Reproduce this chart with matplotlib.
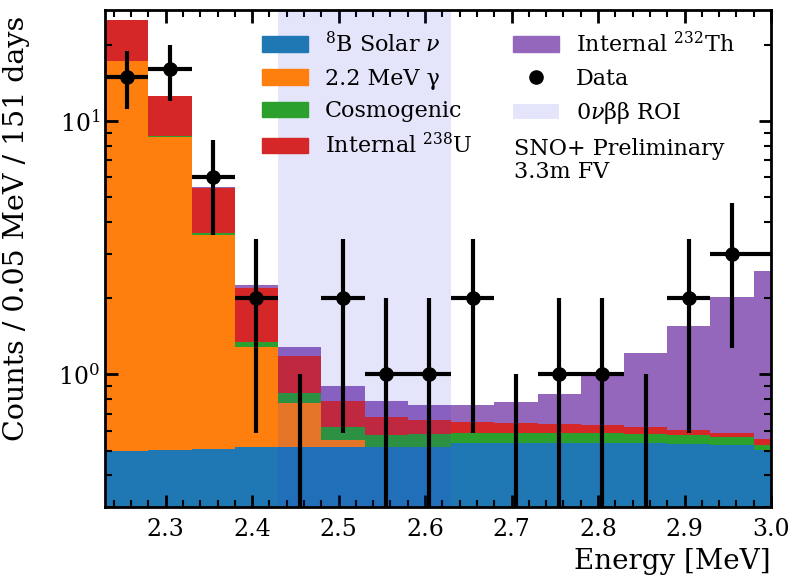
import numpy as np
import matplotlib
matplotlib.use('Agg')
import matplotlib.pyplot as plt
from matplotlib.patches import Patch
from matplotlib.lines import Line2D

plt.rcParams['font.family'] = 'serif'
plt.rcParams['font.serif'] = ['DejaVu Serif']
plt.rcParams['mathtext.fontset'] = 'dejavuserif'

# ---- data ----
bin_edges = np.round(2.23 + 0.05 * np.arange(17), 3)
b8_solar = [0.50, 0.505, 0.51, 0.515, 0.515, 0.515, 0.515, 0.515, 0.535, 0.535,
            0.535, 0.535, 0.535, 0.53, 0.527, 0.505]
gamma_22 = [16.7, 8.16, 3.04, 0.77, 0.26, 0.036, 0.003, 0, 0, 0, 0, 0, 0, 0, 0, 0]
cosmogenic = [0.05, 0.05, 0.06, 0.055, 0.073, 0.071, 0.06, 0.065, 0.05, 0.054,
              0.054, 0.05, 0.045, 0.045, 0.04, 0.022]
internal_u238 = [7.75, 3.8, 1.85, 0.86, 0.33, 0.163, 0.10, 0.08, 0.066, 0.056,
                 0.05, 0.045, 0.04, 0.03, 0.023, 0.028]
internal_th232 = [0.02, 0.02, 0.02, 0.05, 0.105, 0.113, 0.105, 0.097, 0.105, 0.135,
                  0.20, 0.36, 0.595, 0.955, 1.435, 2.015]
data_energy = [2.255, 2.305, 2.355, 2.405, 2.455, 2.505, 2.555, 2.605, 2.655, 2.705,
               2.755, 2.805, 2.855, 2.905, 2.955]
data_counts = [15, 16, 6, 2, 0, 2, 1, 1, 2, 0, 1, 1, 0, 2, 3]
data_xerr_lo = [0.025] * 15
data_xerr_hi = [0.025] * 14 + [0.05]
roi = (2.43, 2.63)

labels = [r'$^{8}$B Solar $\nu$', '2.2 MeV γ', 'Cosmogenic',
          r'Internal $^{238}$U', r'Internal $^{232}$Th']
colors = ['#1f77b4', '#ff7f0e', '#2ca02c', '#d62728', '#9467bd']
components = [b8_solar, gamma_22, cosmogenic, internal_u238, internal_th232]

fig = plt.figure(figsize=(7.9, 5.8), dpi=100)
ax = fig.add_axes([0.133, 0.126, 0.843, 0.857])

left = bin_edges[:-1]
width = np.diff(bin_edges)
bottom = np.zeros(len(left))
handles = []
for comp, col, lab in zip(components, colors, labels):
    vals = np.array(comp, dtype=float)
    ax.bar(left, vals, width=width, bottom=bottom, align='edge', color=col,
           linewidth=0, zorder=1)
    bottom = bottom + vals
    handles.append(Patch(color=col, label=lab))

roi_color = '#3333dd'
roi_alpha = 0.13
ax.axvspan(roi[0], roi[1], color=roi_color, alpha=roi_alpha, lw=0, zorder=2)

counts = np.array(data_counts, dtype=float)
err = np.sqrt(counts)
yerr_lo = np.where(counts > 0, err, 0.0)
yerr_hi = np.where(counts > 0, err, 1.0)
nz = counts > 0
ax.errorbar(np.array(data_energy)[nz], counts[nz],
            xerr=[np.array(data_xerr_lo)[nz], np.array(data_xerr_hi)[nz]],
            yerr=[yerr_lo[nz], yerr_hi[nz]], fmt='o', color='black',
            markersize=9.5, elinewidth=3, capsize=0, zorder=4)
z = ~nz
ax.errorbar(np.array(data_energy)[z], counts[z] + 1e-6,
            yerr=[np.zeros(z.sum()), yerr_hi[z]], fmt='none', color='black',
            elinewidth=3, capsize=0, zorder=4)

ax.set_yscale('log')
ax.set_xlim(2.23, 3.0)
ax.set_ylim(0.3, 27.5)
ax.set_xlabel('Energy [MeV]', fontsize=20, loc='right', labelpad=5)
ax.set_ylabel('Counts / 0.05 MeV / 151 days', fontsize=20.5)
ax.yaxis.set_label_coords(-0.112, 0.56)
ax.set_xticks([2.3, 2.4, 2.5, 2.6, 2.7, 2.8, 2.9, 3.0])
ax.set_xticklabels(['2.3', '2.4', '2.5', '2.6', '2.7', '2.8', '2.9', '3.0'])
ax.xaxis.set_minor_locator(matplotlib.ticker.MultipleLocator(0.02))
ax.tick_params(which='both', direction='in', top=True, right=True, labelsize=17)
ax.tick_params(which='major', length=9, width=2)
ax.tick_params(which='minor', length=5, width=1.5)
ax.tick_params(axis='x', which='major', pad=8)
for s in ax.spines.values():
    s.set_linewidth(2)
    s.set_zorder(5)

data_handle = Line2D([], [], marker='o', color='black', linestyle='none',
                     markersize=9.5, label='Data')
roi_handle = Patch(color=roi_color, alpha=roi_alpha, lw=0, label='0$\\nu$ββ ROI')
all_handles = handles[:4] + [handles[4], data_handle, roi_handle]
ax.legend(handles=all_handles, ncol=2, loc='upper left', bbox_to_anchor=(0.205, 0.996),
          frameon=False, fontsize=16, handlelength=2.1, labelspacing=0.48,
          columnspacing=1.8, handletextpad=0.75)
ax.text(0.614, 0.742, 'SNO+ Preliminary\n3.3m FV', transform=ax.transAxes,
        fontsize=16, va='top', ha='left', linespacing=1.05)

fig.savefig('out.png', dpi=100)
